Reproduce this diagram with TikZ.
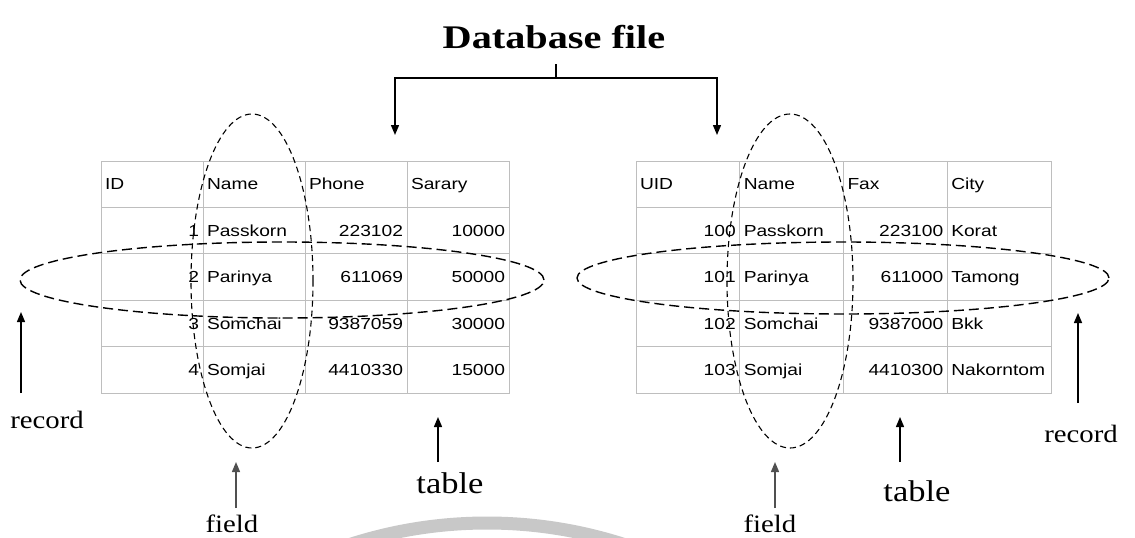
\documentclass[tikz,border=0pt]{standalone}
\usepackage{fontspec}
\usetikzlibrary{arrows.meta}
\newfontfamily\cellfnt[FakeStretch=1.2]{Liberation Sans}
\newfontfamily\lblfnt[FakeStretch=1.15]{Liberation Serif}
\newfontfamily\ttlfnt[FakeStretch=1.22]{Liberation Serif}
\definecolor{gridgray}{RGB}{190,190,190}
\definecolor{arcgray}{RGB}{200,200,200}
\definecolor{fieldgray}{RGB}{80,80,80}
\tikzset{
  cellbase/.style={draw=gridgray, line width=0.9pt, minimum height=46.4pt,
    inner ysep=0pt, inner xsep=4pt, font=\cellfnt\fontsize{16}{18}\selectfont,
    text height=11.5pt, text depth=0pt},
  lcL/.style={cellbase, text width=94pt, minimum width=102pt, align=left},
  lcR/.style={cellbase, text width=94pt, minimum width=102pt, align=right},
  rcL/.style={cellbase, text width=95.75pt, minimum width=103.75pt, align=left},
  rcR/.style={cellbase, text width=95.75pt, minimum width=103.75pt, align=right},
  conn/.style={line width=1.4pt, -{Triangle[length=10pt,width=8pt]}},
  vring/.style={dash pattern=on 6pt off 4pt, line width=1.1pt},
  hring/.style={dash pattern=on 10pt off 5pt, line width=1.4pt},
  lbl/.style={font=\lblfnt\fontsize{25}{28}\selectfont, anchor=base, inner sep=0pt},
  tbl/.style={font=\lblfnt\fontsize{30}{34}\selectfont, anchor=base, inner sep=0pt},
}
\begin{document}
\begin{tikzpicture}[x=1pt,y=-1pt]
\useasboundingbox[fill=white] (0,0) rectangle (1135,538);
% watermark arc
\begin{scope}
  \clip (0,0) rectangle (1135,538);
  \draw[arcgray, line width=13pt] (487,968) circle (445pt);
\end{scope}

% title
\node[font=\ttlfnt\bfseries\fontsize{33}{36}\selectfont, anchor=base, inner sep=0pt] (title) at (554,48) {Database file};
\coordinate (stem) at (556,64);
\coordinate (split) at (556,78);
\coordinate (tA) at (395,135);
\coordinate (tB) at (717,135);
\draw[line width=1.4pt] (stem) -- (split);
\draw[conn] (split) -| (tA);
\draw[conn] (split) -| (tB);

% left table
\foreach \h [count=\c] in {ID,Name,Phone,Sarary}
  \node[lcL] (L0-\c) at ({50+102*\c},184.2) {\h};
\foreach \i/\a/\b/\cc/\d in {1/1/Passkorn/223102/10000,2/2/Parinya/611069/50000,3/3/Somchai/9387059/30000,4/4/Somjai/4410330/15000}{
  \node[lcR] (L\i-1) at (152,{184.2+46.4*\i}) {\a};
  \node[lcL] (L\i-2) at (254,{184.2+46.4*\i}) {\b};
  \node[lcR] (L\i-3) at (356,{184.2+46.4*\i}) {\cc};
  \node[lcR] (L\i-4) at (458,{184.2+46.4*\i}) {\d};
}

% right table
\foreach \h [count=\c] in {UID,Name,Fax,City}
  \node[rcL] (R0-\c) at ({584.125+103.75*\c},184.2) {\h};
\foreach \i/\a/\b/\cc/\d in {1/100/Passkorn/223100/Korat,2/101/Parinya/611000/Tamong,3/102/Somchai/9387000/Bkk,4/103/Somjai/4410300/Nakorntom}{
  \node[rcR] (R\i-1) at (687.875,{184.2+46.4*\i}) {\a};
  \node[rcL] (R\i-2) at (791.625,{184.2+46.4*\i}) {\b};
  \node[rcR] (R\i-3) at (895.375,{184.2+46.4*\i}) {\cc};
  \node[rcL] (R\i-4) at (999.125,{184.2+46.4*\i}) {\d};
}

% field and record rings
\draw[vring] (252,281) ellipse [x radius=61pt, y radius=167pt];
\draw[hring] (282,280) ellipse [x radius=262pt, y radius=38pt];
\draw[vring] (790,281) ellipse [x radius=63pt, y radius=167pt];
\draw[hring] (843,278) ellipse [x radius=266pt, y radius=36pt];

% labels
\node[lbl] (recL) at (47,428) {record};
\node[lbl] (fieldL) at (232,532) {field};
\node[tbl] (tableL) at (450,493) {table};
\node[lbl] (recR) at (1081,442) {record};
\node[lbl] (fieldR) at (770,532) {field};
\node[tbl] (tableR) at (917,501) {table};

\coordinate (recLa) at (21,393);  \coordinate (recLb) at (21,312);
\coordinate (recRa) at (1078,403); \coordinate (recRb) at (1078,313);
\coordinate (fldLa) at (236,508); \coordinate (fldLb) at (236,462);
\coordinate (fldRa) at (775,508); \coordinate (fldRb) at (775,462);
\coordinate (tabLa) at (438,462); \coordinate (tabLb) at (438,417);
\coordinate (tabRa) at (900,462); \coordinate (tabRb) at (900,417);
\draw[conn] (recLa) -- (recLb);
\draw[conn] (recRa) -- (recRb);
\draw[conn, fieldgray] (fldLa) -- (fldLb);
\draw[conn, fieldgray] (fldRa) -- (fldRb);
\draw[conn] (tabLa) -- (tabLb);
\draw[conn] (tabRa) -- (tabRb);
\end{tikzpicture}
\end{document}
